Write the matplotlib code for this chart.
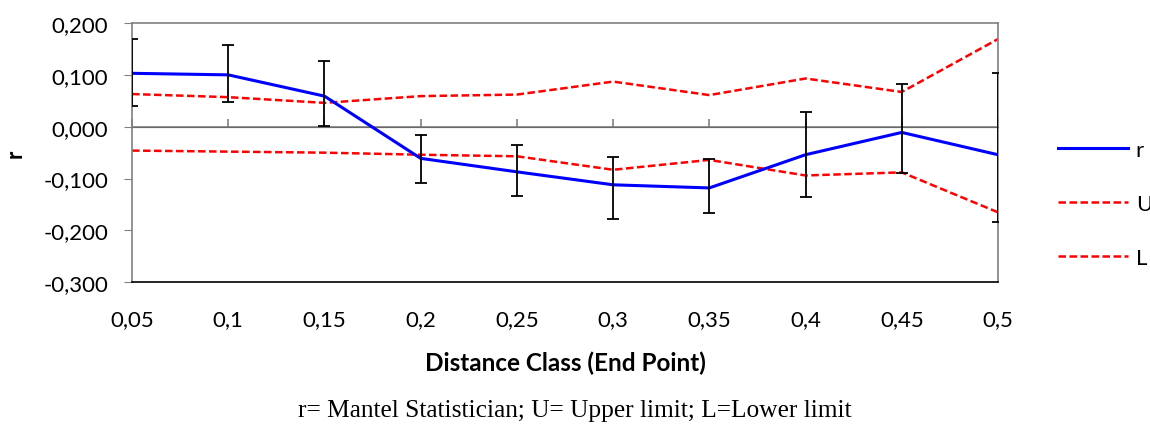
import matplotlib
matplotlib.use('Agg')
import matplotlib.pyplot as plt
import numpy as np

plt.rcParams['font.family'] = ['Lato', 'DejaVu Sans']

# distance classes (end points)
classes = ['0,05', '0,1', '0,15', '0,2', '0,25', '0,3', '0,35', '0,4', '0,45', '0,5']
# Mantel statistic r
r_vals = [0.103, 0.100, 0.059, -0.061, -0.087, -0.112, -0.118, -0.054, -0.011, -0.054]
# error bar ends (bootstrap)
err_hi = [0.169, 0.158, 0.126, -0.015, -0.035, -0.058, -0.063, 0.029, 0.082, 0.103]
err_lo = [0.040, 0.047, 0.001, -0.108, -0.133, -0.178, -0.166, -0.136, -0.089, -0.184]
# permutation limits
upper = [0.063, 0.057, 0.046, 0.059, 0.062, 0.087, 0.061, 0.093, 0.067, 0.169]
lower = [-0.046, -0.048, -0.050, -0.054, -0.057, -0.083, -0.064, -0.094, -0.088, -0.165]

x = np.arange(len(classes))
r = np.array(r_vals)

fig = plt.figure(figsize=(11.5, 4.27), dpi=100)
ax = fig.add_axes([0.1148, 0.3365, 0.753, 0.6073])

ln_r, = ax.plot(x, r, color='#0000ff', lw=2.2, label='r', zorder=3)
ln_u, = ax.plot(x, upper, color='#ff0000', lw=1.8, dashes=(3, 1.4), label='U', zorder=2)
ln_l, = ax.plot(x, lower, color='#ff0000', lw=1.8, dashes=(3, 1.4), label='L', zorder=2)
ax.errorbar(x, r, yerr=[r - np.array(err_lo), np.array(err_hi) - r], fmt='none',
            ecolor='black', elinewidth=1.3, capsize=4, capthick=1.3, zorder=4)

ax.set_xlim(0, len(classes) - 1)
ax.set_ylim(-0.3, 0.2)
ax.set_yticks(np.arange(-0.3, 0.201, 0.1))
ax.set_yticklabels([('%.3f' % v).replace('.', ',') for v in np.arange(-0.3, 0.201, 0.1)])
ax.set_xticks(x)
ax.set_xticklabels(classes)
ax.tick_params(axis='x', length=0, labelsize=16, pad=19)
ax.tick_params(axis='y', length=6, color='#808080', labelsize=16, pad=11)

for side in ['top', 'left', 'right']:
	ax.spines[side].set_color('#808080')
	ax.spines[side].set_linewidth(1.2)
ax.spines['bottom'].set_color('black')
ax.spines['bottom'].set_linewidth(1.2)

# horizontal axis crossing at zero, with its tick marks
ax.axhline(0, color='#808080', lw=1.2, zorder=1)
y0 = (0 - ax.get_ylim()[0]) / (ax.get_ylim()[1] - ax.get_ylim()[0])
sec = ax.secondary_xaxis(y0)
sec.set_xticks(x)
sec.set_xticklabels([])
sec.tick_params(axis='x', direction='out', length=6, color='#808080', width=1.2)
sec.spines['bottom'].set_visible(False)

ax.set_xlabel('Distance Class (End Point)', fontsize=17.5, fontweight='bold', labelpad=16)
ax.set_ylabel('r', fontsize=16, fontweight='bold', labelpad=13)

fig.legend(handles=[ln_r, ln_u, ln_l], loc='center left', bbox_to_anchor=(0.92, 0.52),
           frameon=False, fontsize=16, handlelength=3.15, labelspacing=1.52,
           handletextpad=0.35, borderpad=0, borderaxespad=0)

fig.text(0.5, 0.038, 'r= Mantel Statistician; U= Upper limit; L=Lower limit',
         ha='center', va='center', fontsize=18.3, family=['Liberation Serif', 'DejaVu Serif'])

fig.savefig('out.png', dpi=100)
